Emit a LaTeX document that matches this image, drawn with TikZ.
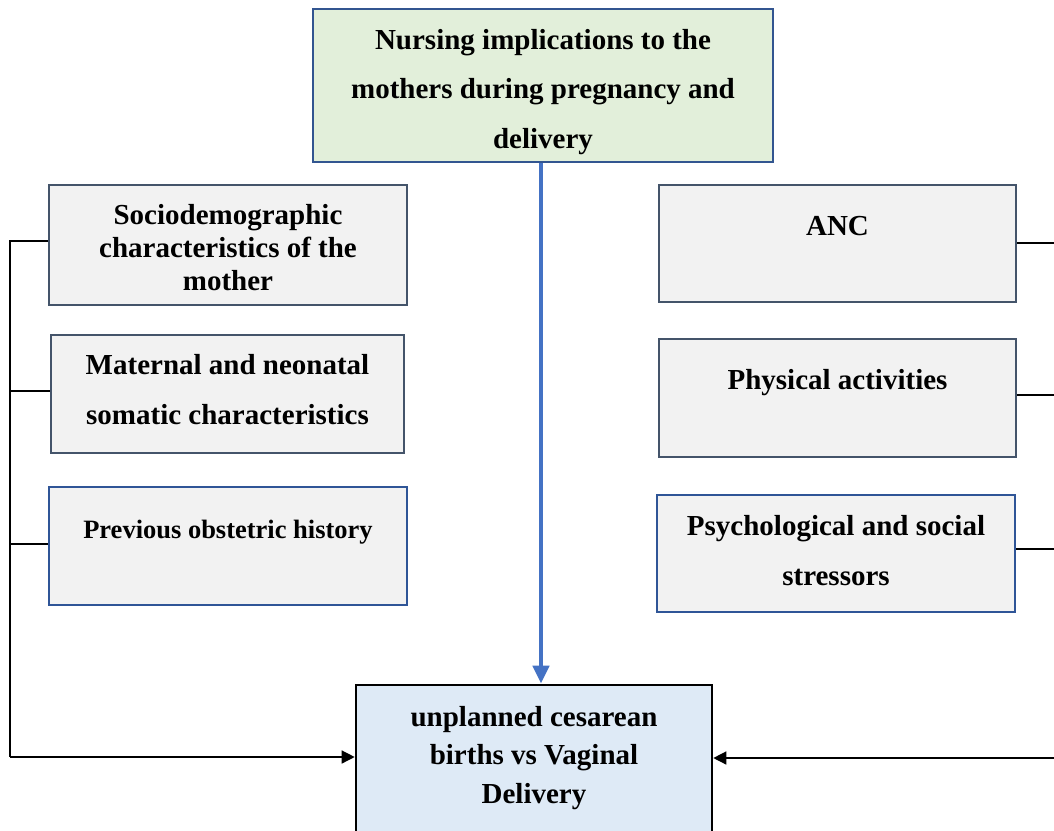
\documentclass[tikz,border=0pt]{standalone}
\usepackage{fontspec}
\setmainfont{Liberation Serif}
\usetikzlibrary{arrows.meta}
\definecolor{slate}{HTML}{44546A}
\definecolor{bblue}{HTML}{2F5597}
\definecolor{agreen}{HTML}{E2EFDA}
\definecolor{abox}{HTML}{F2F2F2}
\definecolor{lblue}{HTML}{DEEAF6}
\definecolor{arrblue}{HTML}{4472C4}
\tikzset{
  boxbase/.style={draw, line width=2pt, inner sep=0pt},
  slatebox/.style={boxbase, draw=slate, fill=abox},
  bluebox/.style={boxbase, draw=bblue, fill=abox},
  txt/.style={align=center, inner sep=0pt, font=\bfseries\fontsize{29}{33}\selectfont},
  conn/.style={line width=1.4pt, black},
}
\begin{document}
\begin{tikzpicture}[x=1pt,y=-1pt]
\useasboundingbox (0,0) rectangle (1054,830);
\clip (0,0) rectangle (1054,830);
% top box
\node[boxbase, draw=bblue!85!slate, fill=agreen, minimum width=460pt, minimum height=153pt] (top) at (543,85.5) {};
\node[txt, font=\bfseries\fontsize{29}{49.5}\selectfont] (toptxt) at (543,92) {Nursing implications to the\\mothers during pregnancy and\\delivery};
% left boxes
\node[slatebox, minimum width=358pt, minimum height=120pt] (l1) at (228,245) {};
\node[txt] (l1t) at (228,248) {Sociodemographic\\characteristics of the\\mother};
\node[slatebox, minimum width=353pt, minimum height=118pt] (l2) at (227.5,394) {};
\node[txt, font=\bfseries\fontsize{29}{50}\selectfont] (l2t) at (227.5,390) {Maternal and neonatal\\somatic characteristics};
\node[bluebox, minimum width=358pt, minimum height=118pt] (l3) at (228,546) {};
\node[txt, font=\bfseries\fontsize{26.5}{30}\selectfont] (l3t) at (228,532) {Previous obstetric history};
% right boxes
\node[slatebox, minimum width=357pt, minimum height=117pt] (r1) at (837.5,243.5) {};
\node[txt] (r1t) at (837.5,226) {ANC};
\node[slatebox, minimum width=357pt, minimum height=118pt] (r2) at (837.5,398) {};
\node[txt] (r2t) at (837.5,383) {Physical activities};
\node[bluebox, minimum width=358pt, minimum height=117pt] (r3) at (836,553.5) {};
\node[txt, font=\bfseries\fontsize{29}{50}\selectfont] (r3t) at (836,551) {Psychological and social\\stressors};
% bottom box
\node[boxbase, draw=black, line width=2.6pt, fill=lblue, minimum width=356pt, minimum height=170pt] (bot) at (534,770) {};
\node[txt, font=\bfseries\fontsize{29}{38.5}\selectfont] (bott) at (534,758) {unplanned cesarean\\births vs Vaginal\\Delivery};
% blue arrow
\draw[arrblue, line width=4.5pt, -{Triangle[length=18pt,width=16pt]}] (top.south -| 541,0) -- (bot.north -| 541,0);
% left bus
\coordinate (lb1) at (10,241);
\coordinate (lb2) at (10,391);
\coordinate (lb3) at (10,544);
\coordinate (lb4) at (10,757);
\draw[conn] (l1.west |- lb1) -- (lb1) -- (lb4);
\draw[conn] (lb2) -- (l2.west |- lb2);
\draw[conn] (lb3) -- (l3.west |- lb3);
\draw[conn, -{Triangle[length=13pt,width=13pt]}] (lb4) -- (bot.west |- lb4);
% right connectors
\coordinate (rb1) at (1060,243);
\coordinate (rb2) at (1060,395);
\coordinate (rb3) at (1060,549);
\coordinate (rb4) at (1060,758);
\draw[conn] (r1.east |- rb1) -- (rb1);
\draw[conn] (r2.east |- rb2) -- (rb2);
\draw[conn] (r3.east |- rb3) -- (rb3);
\draw[conn, -{Triangle[length=13pt,width=13pt]}] (rb4) -- (bot.east |- rb4);
\end{tikzpicture}
\end{document}
